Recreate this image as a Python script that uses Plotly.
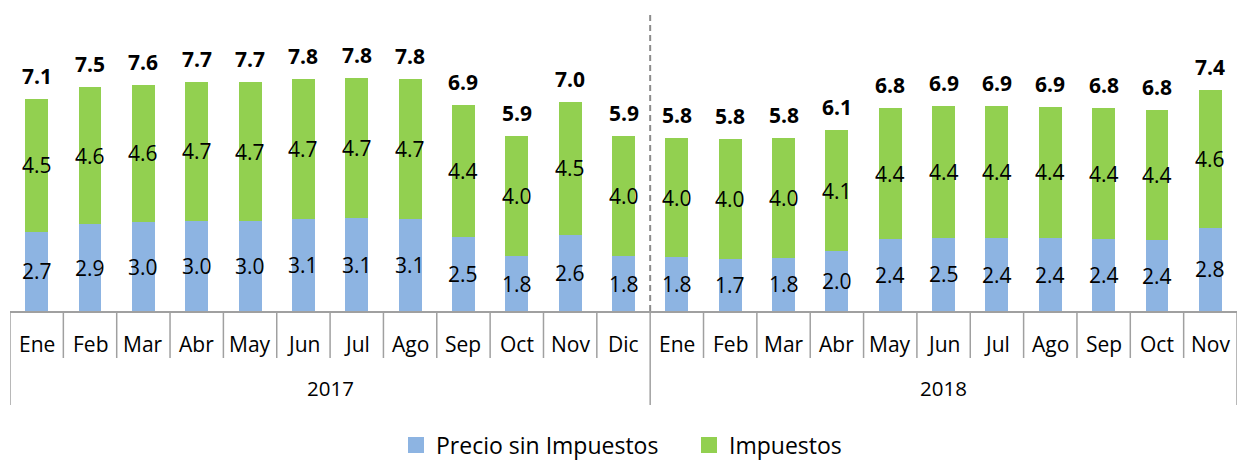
import plotly.graph_objects as go

# Monthly price breakdown (per unit), 2017-2018
months = ["Ene", "Feb", "Mar", "Abr", "May", "Jun", "Jul", "Ago", "Sep", "Oct", "Nov", "Dic",
          "Ene", "Feb", "Mar", "Abr", "May", "Jun", "Jul", "Ago", "Sep", "Oct", "Nov"]
years = ["2017"] * 12 + ["2018"] * 11
precio = [2.66, 2.92, 2.98, 3.02, 3.01, 3.08, 3.12, 3.09, 2.49, 1.84, 2.56, 1.84,
          1.80, 1.74, 1.79, 2.01, 2.41, 2.46, 2.44, 2.44, 2.41, 2.38, 2.79]
impuestos = [4.46, 4.59, 4.62, 4.68, 4.67, 4.70, 4.71, 4.71, 4.42, 4.03, 4.46, 4.04,
             4.00, 4.03, 4.01, 4.07, 4.39, 4.42, 4.43, 4.42, 4.40, 4.38, 4.62]

BLUE = "#8DB4E2"
GREEN = "#92D050"
GRID = "#A0A0A0"
FONT = "Open Sans"

W, H = 1237, 460
M_L, M_R, M_T, M_B = 10, 0, 0, 149
PLOT_W = W - M_L - M_R
PLOT_H = H - M_T - M_B

x = list(range(len(months)))
totals = [p + t for p, t in zip(precio, impuestos)]


def below(px):
    """Paper y-coordinate for a point px pixels under the category axis."""
    return -px / PLOT_H


fig = go.Figure()
fig.add_trace(go.Bar(x=x, y=precio, marker=dict(color=BLUE, line=dict(width=0)),
                     width=0.43, showlegend=False, hoverinfo="y"))
fig.add_trace(go.Bar(x=x, y=impuestos, marker=dict(color=GREEN, line=dict(width=0)),
                     width=0.43, showlegend=False, hoverinfo="y"))

# legend entries
fig.add_trace(go.Scatter(x=[None], y=[None], mode="markers", name="Precio sin Impuestos",
                         marker=dict(symbol="square", size=16, color=BLUE)))
fig.add_trace(go.Scatter(x=[None], y=[None], mode="markers", name="Impuestos",
                         marker=dict(symbol="square", size=16, color=GREEN)))

annotations = []
for i in x:
    annotations.append(dict(x=i, y=precio[i] / 2, xref="x", yref="y",
                            text=f"{precio[i]:.1f}", showarrow=False,
                            font=dict(size=21, color="black", family=FONT)))
    annotations.append(dict(x=i, y=precio[i] + impuestos[i] / 2, xref="x", yref="y",
                            text=f"{impuestos[i]:.1f}", showarrow=False,
                            font=dict(size=21, color="black", family=FONT)))
    annotations.append(dict(x=i, y=totals[i], xref="x", yref="y", yanchor="middle",
                            yshift=23, text=f"<b>{totals[i]:.1f}</b>", showarrow=False,
                            font=dict(size=21, color="black", family=FONT)))
    annotations.append(dict(x=i, y=below(33), xref="x", yref="paper", yanchor="middle",
                            text=months[i], showarrow=False,
                            font=dict(size=21, color="black", family=FONT)))

# year labels centred under their group of months
for yr in sorted(set(years)):
    idx = [i for i in x if years[i] == yr]
    annotations.append(dict(x=(idx[0] + idx[-1]) / 2, y=below(77), xref="x", yref="paper",
                            yanchor="middle", text=yr, showarrow=False,
                            font=dict(size=20.5, color="black", family=FONT)))

shapes = []
# month / year boundary lines under the axis
year_bounds = {-0.5, len(x) - 0.5}
for i in range(1, len(x)):
    if years[i] != years[i - 1]:
        year_bounds.add(i - 0.5)
for b in [i - 0.5 for i in range(len(x) + 1)]:
    depth = 94 if b in year_bounds else 47
    shapes.append(dict(type="line", xref="x", yref="paper", x0=b, x1=b,
                       y0=0, y1=below(depth), line=dict(color=GRID, width=1.5)))

# dashed separator between the two years inside the plot
for b in year_bounds:
    if -0.5 < b < len(x) - 0.5:
        shapes.append(dict(type="line", xref="x", yref="paper", x0=b, x1=b,
                           y0=0, y1=(PLOT_H - 12) / PLOT_H,
                           line=dict(color="#8C8C8C", width=2, dash="6px,4px")))

fig.update_layout(
    width=W, height=H, autosize=False,
    margin=dict(l=M_L, r=M_R, t=M_T, b=M_B, pad=0, autoexpand=False),
    barmode="stack",
    plot_bgcolor="white", paper_bgcolor="white",
    font=dict(family=FONT, color="black"),
    xaxis=dict(range=[-0.5, len(x) - 0.5], showticklabels=False, ticks="",
               showgrid=False, zeroline=False, showline=True,
               linecolor=GRID, linewidth=1.5, fixedrange=True),
    yaxis=dict(range=[0, 10.44], visible=False, fixedrange=True),
    legend=dict(orientation="h", traceorder="normal",
                x=(396 - M_L) / PLOT_W, xanchor="left",
                y=below(134), yanchor="middle",
                entrywidth=248, entrywidthmode="pixels",
                font=dict(size=23, family=FONT, color="black"),
                itemsizing="trace", bgcolor="rgba(0,0,0,0)"),
    annotations=annotations,
    shapes=shapes,
)

fig.write_html("out.html")
